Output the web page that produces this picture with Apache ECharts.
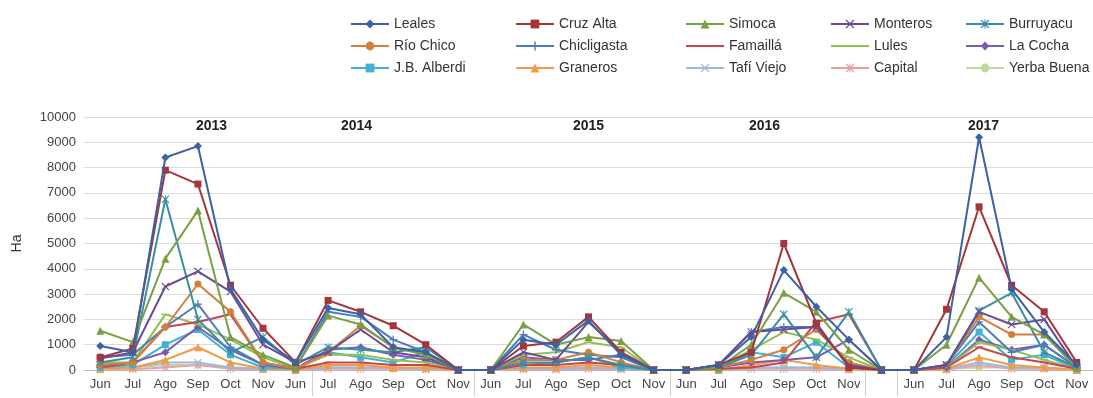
<!DOCTYPE html>
<html><head><meta charset="utf-8">
<script src="https://cdn.jsdelivr.net/npm/echarts@6/dist/echarts.min.js"></script>
<style>html,body{margin:0;padding:0;background:#fff}#c{width:1093px;height:398px}</style>
</head><body><div id="c"></div>
<script>
const categories = ['Jun','Jul','Ago','Sep','Oct','Nov','Jun','Jul','Ago','Sep','Oct','Nov','Jun','Jul','Ago','Sep','Oct','Nov','Jun','Jul','Ago','Sep','Oct','Nov','','Jun','Jul','Ago','Sep','Oct','Nov'];
const years = ['2013','2014','2015','2016','2017'];
const yTicks = [0,1000,2000,3000,4000,5000,6000,7000,8000,9000,10000];

const leales      = [950,700,8400,8850,3200,1200,300, 2450,2200,900,700,0, 0,1200,1000,1950,600,0, 0,200,1300,3950,2500,1200, 0, 0,1300,9200,3200,1500,200];
const cruzAlta    = [500,850,7900,7350,3350,1650,300, 2750,2300,1750,1000,0, 0,950,1100,2100,700,0, 0,200,700,5000,1850,100, 0, 0,2400,6450,3350,2300,300];
const simoca      = [1550,1100,4400,6300,1300,600,100, 2150,1800,900,600,0, 0,1800,1000,1300,1150,0, 0,100,1000,3050,2300,800, 0, 0,1000,3650,2100,1400,100];
const monteros    = [450,700,3300,3900,3100,1000,300, 700,1600,700,500,0, 0,700,400,1900,700,0, 0,200,1500,1600,1700,200, 0, 0,200,2300,1800,2000,100];
const burruyacu   = [300,500,6750,2000,700,1300,200, 900,800,700,900,0, 0,300,300,500,200,0, 0,100,600,2200,500,2300, 0, 0,200,2350,3050,700,100];
const rioChico    = [200,300,1700,3400,2300,300,50, 700,1750,900,600,0, 0,400,400,700,300,0, 0,100,400,800,1600,300, 0, 0,200,2100,1400,1400,100];
const chicligasta = [500,600,1700,2600,900,200,100, 2300,2100,1200,700,0, 0,1400,800,600,500,0, 0,200,1500,1700,1700,200, 0, 0,200,1900,700,1000,100];
const famailla    = [100,300,1700,1900,2200,300,50, 300,300,200,200,0, 0,200,200,300,200,0, 0,50,100,300,1900,2200, 0, 0,100,900,500,300,50];
const lules       = [300,300,2200,1800,1200,500,50, 600,600,400,300,0, 0,600,700,1100,900,0, 0,100,800,1500,1200,500, 0, 0,100,1100,800,400,50];
const laCocha     = [200,300,700,1700,800,200,50, 800,900,600,400,0, 0,500,400,400,600,0, 0,100,300,400,500,1200, 0, 0,100,1200,800,1000,100];
const jbAlberdi   = [100,200,1000,1600,600,100,50, 700,500,300,700,0, 0,200,300,500,100,0, 0,50,700,500,1100,100, 0, 0,150,1500,400,600,50];
const graneros    = [50,100,400,900,300,50,0, 200,200,100,100,0, 0,100,100,200,100,0, 0,0,200,400,200,50, 0, 0,50,500,200,100,0];
const tafiViejo   = [100,100,300,300,100,50,0, 100,100,100,50,0, 0,50,50,100,50,0, 0,0,100,100,100,50, 0, 0,50,300,100,100,0];
const capital     = [20,30,100,200,50,20,0, 50,50,50,20,0, 0,20,20,50,20,0, 0,0,50,50,50,20, 0, 0,20,200,50,50,0];
const yerbaBuena  = [50,100,200,200,100,50,0, 100,100,50,50,0, 0,50,50,100,50,0, 0,0,100,100,100,50, 0, 0,50,100,100,100,0];

const X = 'path://M0,1L1,0L5,4L9,0L10,1L6,5L10,9L9,10L5,6L1,10L0,9L4,5Z';
const PLUS = 'path://M4.2,0H5.8V4.2H10V5.8H5.8V10H4.2V5.8H0V4.2H4.2Z';
const STAR = 'path://M0,1L1,0L5,4L9,0L10,1L6,5L10,9L9,10L5,6L1,10L0,9L4,5Z M4.4,0H5.6V10H4.4Z';
const DASH = 'path://M0,0L0.01,0L0.01,0.01Z M0,4.2H10V5.8H0Z M10,10L9.99,10L9.99,9.99Z';

const seriesDefs = [
  ['Leales', leales, '#3b62a5', 'diamond', 8],
  ['Cruz Alta', cruzAlta, '#a3353b', 'rect', 7],
  ['Simoca', simoca, '#79a044', 'triangle', 8],
  ['Monteros', monteros, '#6a4c94', X, 8],
  ['Burruyacu', burruyacu, '#3a8ea3', STAR, 8],
  ['Río Chico', rioChico, '#d27f3c', 'circle', 7],
  ['Chicligasta', chicligasta, '#4a7cc0', PLUS, 8],
  ['Famaillá', famailla, '#c8454e', DASH, 8],
  ['Lules', lules, '#92c050', DASH, 8],
  ['La Cocha', laCocha, '#7c5cac', 'diamond', 8],
  ['J.B. Alberdi', jbAlberdi, '#40b2d2', 'rect', 7],
  ['Graneros', graneros, '#f39a45', 'triangle', 8],
  ['Tafí Viejo', tafiViejo, '#9db8dd', X, 8],
  ['Capital', capital, '#e6a0a6', STAR, 8],
  ['Yerba Buena', yerbaBuena, '#c2d6a0', 'circle', 7]
];

const font = 'Liberation Sans, Arial, sans-serif';
const legendCols = [345, 510, 680, 825, 960];
const legends = legendCols.map((left, c) => ({
  orient: 'vertical', left: left, top: 12, itemGap: 8, itemWidth: 38, itemHeight: 11,
  data: [seriesDefs[c][0], seriesDefs[c+5][0], seriesDefs[c+10][0]],
  textStyle: {fontFamily: font, fontSize: 14, color: '#333'}
}));

const yearX = [213, 358, 590, 766, 985];
const chart = echarts.init(document.getElementById('c'), null, {renderer: 'canvas'});
chart.setOption({
  animation: false,
  backgroundColor: '#fff',
  legend: legends,
  grid: {left: 84, right: 0, top: 117, bottom: 28, containLabel: false},
  xAxis: {
    type: 'category', data: categories, boundaryGap: true,
    axisLine: {lineStyle: {color: '#bbb'}},
    axisTick: {show: true, length: 26, lineStyle: {color: '#d0d0d0'},
      interval: (i) => [7,12,18,24,25].includes(i)},
    axisLabel: {interval: 0, fontFamily: font, fontSize: 13, color: '#444', margin: 8}
  },
  yAxis: {
    type: 'value', min: yTicks[0], max: yTicks[yTicks.length-1], interval: 1000,
    name: 'Ha', nameLocation: 'middle', nameGap: 60, nameRotate: 90,
    nameTextStyle: {fontFamily: font, fontSize: 14, color: '#333'},
    axisLine: {show: false}, axisTick: {show: false},
    splitLine: {lineStyle: {color: '#dcdcdc'}},
    axisLabel: {fontFamily: font, fontSize: 13, color: '#444', margin: 8, formatter: (v) => String(v)}
  },
  graphic: years.map((y, i) => ({
    type: 'text', left: yearX[i] - 17, top: 119,
    style: {text: y, font: 'bold 14px ' + font, fill: '#222'}
  })),
  series: seriesDefs.map(([name, data, color, sym, size], i) => ({
    name, type: 'line', data, symbol: sym, symbolSize: size, showSymbol: true,
    lineStyle: {width: 2, color}, itemStyle: {color, borderColor: color, borderWidth: 0},
    z: 20 - i
  }))
});
</script></body></html>
